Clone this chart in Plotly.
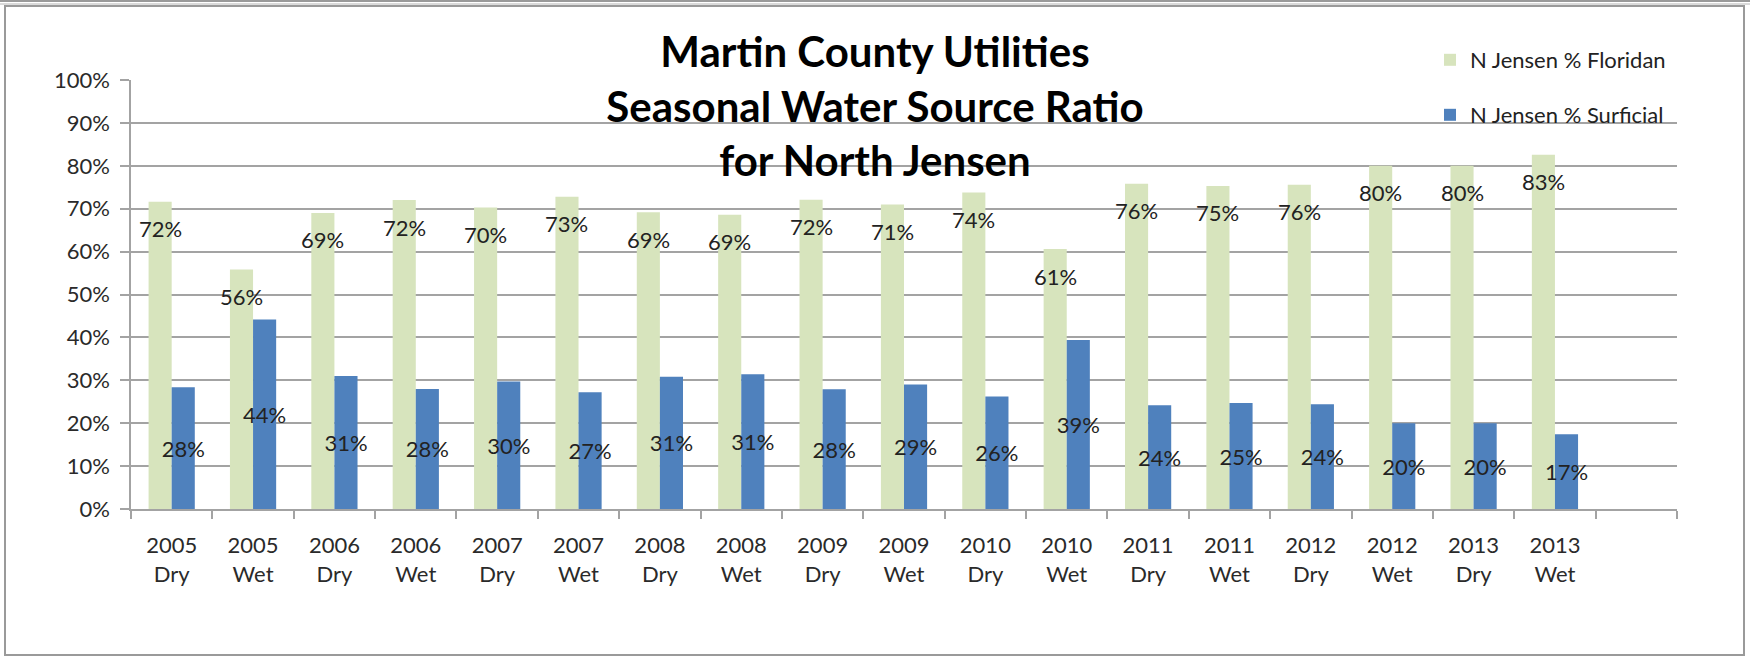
import plotly.graph_objects as go

# ---- data ----
years = ["2005", "2005", "2006", "2006", "2007", "2007", "2008", "2008", "2009",
         "2009", "2010", "2010", "2011", "2011", "2012", "2012", "2013", "2013"]
seasons = ["Dry", "Wet", "Dry", "Wet", "Dry", "Wet", "Dry", "Wet", "Dry",
           "Wet", "Dry", "Wet", "Dry", "Wet", "Dry", "Wet", "Dry", "Wet"]
floridan = [71.6, 55.8, 69.0, 72.0, 70.3, 72.8, 69.2, 68.6, 72.1,
            71.0, 73.8, 60.6, 75.8, 75.3, 75.6, 80.0, 80.0, 82.6]
surficial = [28.4, 44.2, 31.0, 28.0, 29.7, 27.2, 30.8, 31.4, 27.9,
             29.0, 26.2, 39.4, 24.2, 24.7, 24.4, 20.0, 20.0, 17.4]
series_names = ["N Jensen % Floridan", "N Jensen % Surficial"]
title_lines = ["Martin County Utilities", "Seasonal Water Source Ratio", "for North Jensen"]
y_ticks = [0, 10, 20, 30, 40, 50, 60, 70, 80, 90, 100]

categories = [f"{y}<br>{s}" for y, s in zip(years, seasons)]
cat_array = categories + [" "]  # trailing empty slot as in the original

# ---- style ----
W, H = 1750, 658
ML, MR, MT, MB = 131, 73, 80, 149
PW, PH = W - ML - MR, H - MT - MB
FONT = "Lato, 'Open Sans', sans-serif"
GREEN = "#d7e4bd"
BLUE = "#4f81bd"
GRID = "#a3a3a3"
TXT = "#2a2a2a"

def px_x(px):
    return (px - ML) / PW

def px_y(py):
    return (H - MB - py) / PH

fig = go.Figure()
fig.add_trace(go.Bar(
    x=categories, y=floridan, name=series_names[0], marker_color=GREEN,
    marker_line_width=0, legend="legend", showlegend=True,
))
fig.add_trace(go.Bar(
    x=categories, y=surficial, name=series_names[1], marker_color=BLUE,
    marker_line_width=0, legend="legend2", showlegend=True,
    texttemplate="%{y:.0f}%", textposition="inside", insidetextanchor="middle",
    textangle=0, constraintext="none", cliponaxis=False,
    textfont=dict(family=FONT, size=22, color="#222222"),
))

# Floridan labels, sitting just below each bar top (as positioned in the original)
slot_px = PW / len(cat_array)
bar_frac = 0.284
for c, v in zip(categories, floridan):
    fig.add_annotation(
        x=c, y=v, xref="x", yref="y", text=f"{v:.0f}%", showarrow=False,
        xshift=-slot_px * bar_frac / 2, yshift=-27,
        font=dict(family=FONT, size=22, color="#222222"),
    )

# outer frame
fig.add_shape(type="rect", xref="paper", yref="paper",
              x0=px_x(5), x1=px_x(1744), y0=px_y(655), y1=px_y(6),
              line=dict(color="#9a9a9a", width=2), layer="below")
fig.add_shape(type="line", xref="paper", yref="paper",
              x0=px_x(0), x1=px_x(1750), y0=px_y(1), y1=px_y(1),
              line=dict(color="#9a9a9a", width=2), layer="below")
fig.add_shape(type="line", xref="paper", yref="paper",
              x0=px_x(0), x1=px_x(1750), y0=px_y(4), y1=px_y(4),
              line=dict(color="#b5b5b5", width=1), layer="below")

legend_style = dict(
    xref="container", yref="container", xanchor="left", yanchor="middle",
    bgcolor="rgba(0,0,0,0)", borderwidth=0, itemwidth=30,
    font=dict(family=FONT, size=22, color="#222222"),
)

fig.update_layout(
    width=W, height=H,
    margin=dict(l=ML, r=MR, t=MT, b=MB, pad=0, autoexpand=False),
    paper_bgcolor="white", plot_bgcolor="white",
    barmode="group", bargap=1 - 2 * bar_frac, bargroupgap=0,
    font=dict(family=FONT, size=22, color=TXT),
    showlegend=True,
    title=dict(
        text="<b>" + "<br>".join(title_lines) + "</b>",
        font=dict(family=FONT, size=42, color="#000000"),
        x=0.5, xref="container", xanchor="center",
        y=1 - 67 / H, yref="container", yanchor="top",
    ),
    legend=dict(x=1430 / W, y=1 - 60 / H, **legend_style),
    legend2=dict(x=1430 / W, y=1 - 115 / H, **legend_style),
    xaxis=dict(
        type="category", categoryorder="array", categoryarray=cat_array,
        range=[-0.5, len(cat_array) - 0.5],
        showline=True, linecolor=GRID, linewidth=1.5,
        ticks="outside", tickson="boundaries", ticklen=8, tickcolor=GRID, tickwidth=1.5,
        tickfont=dict(family=FONT, size=22, color=TXT),
        showgrid=False, ticklabelstandoff=16,
    ),
    yaxis=dict(
        range=[0, 100], tickvals=y_ticks, ticktext=[f"{t}%" for t in y_ticks],
        showline=True, linecolor=GRID, linewidth=1.5,
        ticks="outside", ticklen=9, tickcolor=GRID, tickwidth=1.5,
        showgrid=True, gridcolor=GRID, gridwidth=1.5, zeroline=False,
        tickfont=dict(family=FONT, size=22, color=TXT),
        ticklabelstandoff=6,
    ),
)

fig.write_html("out.html")
